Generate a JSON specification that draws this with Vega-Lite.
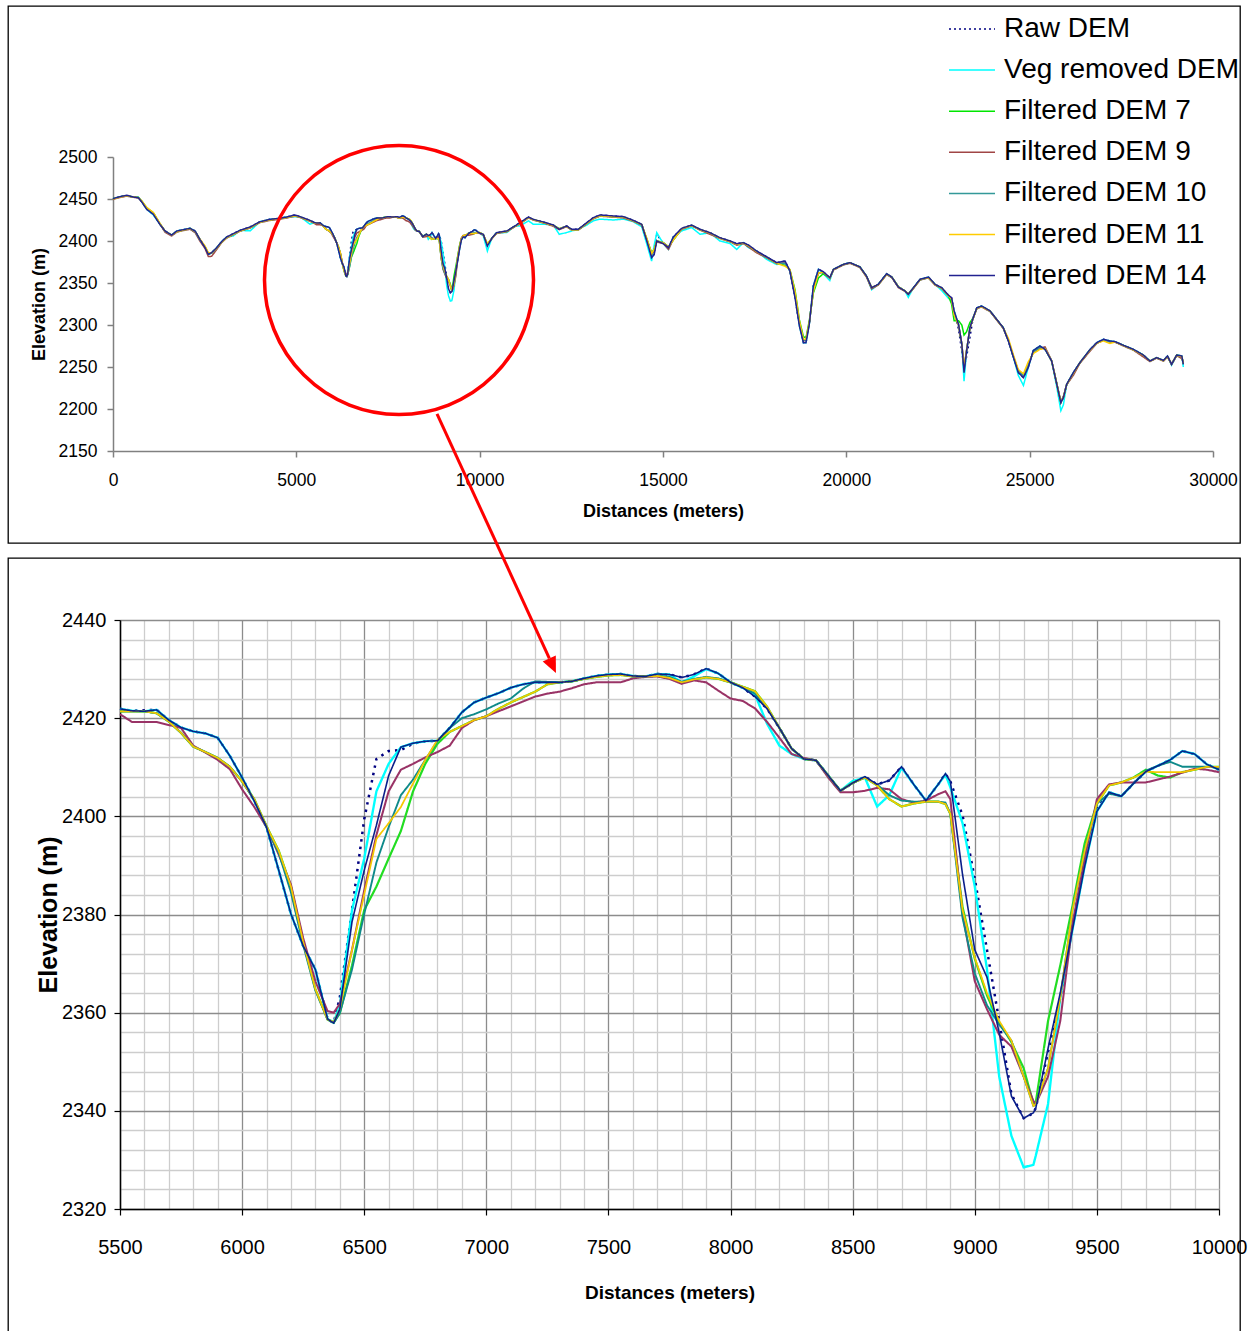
{
"$schema": "https://vega.github.io/schema/vega-lite/v6.json",
"background": "white",
"padding": {"left": 7, "top": 4, "right": 0, "bottom": 0},
"autosize": {"type": "pad"},
"bounds": "flush",
"spacing": 15,
"config": {"view": {"stroke": null}, "font": "Liberation Sans", "axis": {"labelFont": "Liberation Sans", "titleFont": "Liberation Sans", "labelColor": "#000", "titleColor": "#000", "titleFontWeight": "bold"}},
"resolve": {"scale": {"color": "independent", "strokeDash": "independent", "strokeWidth": "independent"}, "legend": {"color": "independent", "strokeDash": "independent"}},
"datasets": {
"names": [{"k":"r","s":"Raw DEM"},{"k":"v","s":"Veg removed DEM"},{"k":"a","s":"Filtered DEM 7"},{"k":"b","s":"Filtered DEM 9"},{"k":"c","s":"Filtered DEM 10"},{"k":"d","s":"Filtered DEM 11"},{"k":"e","s":"Filtered DEM 14"}],
"circ": [{"x": 7800, "y": 2353.6}],
"arrow": [{"x": 6798, "y": 2482, "x2": 7258, "y2": 2432.2}],
"tip": [{"x": 7285, "y": 2429.2}],
"p": [
{"x":0,"r":2450.4,"v":2450.4,"a":2450.2,"b":2449.5,"c":2450.2,"d":2450.0,"e":2450.4},
{"x":190,"r":2452.8,"v":2452.6,"a":2452.5,"b":2451.8,"c":2452.5,"d":2452.3,"e":2452.8},
{"x":370,"r":2454.4,"v":2454.0,"a":2454.0,"b":2453.5,"c":2454.0,"d":2453.8,"e":2454.4},
{"x":550,"r":2452.4,"v":2452.4,"a":2452.4,"b":2452.0,"c":2452.4,"d":2452.4,"e":2452.4},
{"x":690,"r":2451.6,"v":2452.5,"a":2451.8,"b":2451.2,"c":2451.8,"d":2451.8,"e":2451.6},
{"x":780,"r":2446.8,"v":2446.8,"a":2447.8,"b":2447.0,"c":2447.5,"d":2448.0,"e":2446.8},
{"x":920,"r":2437.7,"v":2437.7,"a":2439.5,"b":2438.5,"c":2439.0,"d":2440.0,"e":2437.7},
{"x":1100,"r":2431.7,"v":2431.0,"a":2433.5,"b":2433.0,"c":2433.0,"d":2434.0,"e":2431.7},
{"x":1280,"r":2419.8,"v":2419.8,"a":2420.5,"b":2420.0,"c":2420.5,"d":2421.0,"e":2419.8},
{"x":1420,"r":2411.9,"v":2411.9,"a":2411.5,"b":2410.5,"c":2411.5,"d":2411.8,"e":2411.9},
{"x":1600,"r":2407.1,"v":2407.1,"a":2407.0,"b":2406.0,"c":2407.0,"d":2407.0,"e":2407.1},
{"x":1740,"r":2411.9,"v":2411.9,"a":2411.0,"b":2410.5,"c":2411.0,"d":2411.0,"e":2411.9},
{"x":1920,"r":2413.5,"v":2413.5,"a":2413.0,"b":2412.5,"c":2413.0,"d":2413.0,"e":2413.5},
{"x":2100,"r":2415.1,"v":2415.1,"a":2414.8,"b":2414.0,"c":2414.8,"d":2414.8,"e":2415.1},
{"x":2240,"r":2411.9,"v":2411.9,"a":2411.0,"b":2410.0,"c":2411.0,"d":2411.5,"e":2411.9},
{"x":2370,"r":2402.0,"v":2402.0,"a":2401.5,"b":2400.0,"c":2401.5,"d":2402.5,"e":2402.0},
{"x":2510,"r":2392.1,"v":2392.1,"a":2393.0,"b":2391.0,"c":2393.0,"d":2394.0,"e":2392.1},
{"x":2600,"r":2384.1,"v":2384.1,"a":2385.0,"b":2381.5,"c":2385.0,"d":2386.0,"e":2384.1},
{"x":2690,"r":2386.1,"v":2386.1,"a":2385.5,"b":2381.8,"c":2385.5,"d":2386.0,"e":2386.1},
{"x":2830,"r":2392.1,"v":2392.1,"a":2391.5,"b":2390.0,"c":2391.5,"d":2391.5,"e":2392.1},
{"x":2960,"r":2399.2,"v":2399.2,"a":2398.5,"b":2398.0,"c":2398.5,"d":2398.5,"e":2399.2},
{"x":3100,"r":2404.8,"v":2404.8,"a":2404.0,"b":2403.5,"c":2404.0,"d":2404.0,"e":2404.8},
{"x":3280,"r":2408.7,"v":2406.0,"a":2408.0,"b":2407.5,"c":2408.0,"d":2408.0,"e":2408.7},
{"x":3460,"r":2412.7,"v":2412.7,"a":2412.0,"b":2411.5,"c":2412.0,"d":2412.0,"e":2412.7},
{"x":3740,"r":2416.7,"v":2412.0,"a":2416.0,"b":2415.5,"c":2416.0,"d":2416.0,"e":2416.7},
{"x":4010,"r":2423.0,"v":2423.0,"a":2422.5,"b":2422.0,"c":2422.5,"d":2422.5,"e":2423.0},
{"x":4280,"r":2425.8,"v":2425.8,"a":2425.2,"b":2424.5,"c":2425.2,"d":2425.2,"e":2425.8},
{"x":4550,"r":2427.0,"v":2427.0,"a":2426.5,"b":2426.0,"c":2426.5,"d":2426.5,"e":2427.0},
{"x":4740,"r":2428.6,"v":2428.6,"a":2428.0,"b":2427.5,"c":2428.0,"d":2428.0,"e":2428.6},
{"x":4960,"r":2431.0,"v":2429.0,"a":2430.0,"b":2429.5,"c":2430.0,"d":2430.0,"e":2431.0},
{"x":5100,"r":2429.0,"v":2429.0,"a":2428.5,"b":2428.0,"c":2428.5,"d":2428.5,"e":2429.0},
{"x":5370,"r":2424.6,"v":2420.0,"a":2424.0,"b":2423.5,"c":2424.0,"d":2424.0,"e":2424.6},
{"x":5500,"r":2421.9,"v":2421.9,"a":2421.4,"b":2420.8,"c":2421.4,"d":2421.4,"e":2421.9},
{"x":5550,"r":2421.5,"v":2421.5,"a":2421.4,"b":2419.2,"c":2421.4,"d":2421.4,"e":2421.5},
{"x":5600,"r":2421.6,"v":2421.4,"a":2421.4,"b":2419.2,"c":2421.4,"d":2421.4,"e":2421.4},
{"x":5650,"r":2421.7,"v":2421.7,"a":2421.0,"b":2419.2,"c":2421.0,"d":2421.0,"e":2421.7},
{"x":5700,"r":2419.6,"v":2419.6,"a":2419.3,"b":2418.6,"c":2419.3,"d":2419.3,"e":2419.6},
{"x":5750,"r":2418.1,"v":2418.1,"a":2417.0,"b":2418.0,"c":2417.0,"d":2417.0,"e":2418.1},
{"x":5800,"r":2417.3,"v":2417.3,"a":2414.2,"b":2414.4,"c":2414.2,"d":2414.2,"e":2417.3},
{"x":5850,"r":2416.9,"v":2416.9,"a":2413.1,"b":2413.0,"c":2413.1,"d":2413.1,"e":2416.9},
{"x":5900,"r":2416.0,"v":2416.0,"a":2411.9,"b":2411.5,"c":2411.9,"d":2411.9,"e":2416.0},
{"x":5950,"r":2412.3,"v":2412.3,"a":2410.1,"b":2409.6,"c":2410.1,"d":2410.1,"e":2412.3},
{"x":6000,"r":2407.9,"v":2407.9,"a":2407.1,"b":2405.5,"c":2407.1,"d":2407.1,"e":2407.9},
{"x":6050,"r":2403.1,"v":2403.1,"a":2403.5,"b":2401.9,"c":2403.3,"d":2403.5,"e":2403.1},
{"x":6100,"r":2397.8,"v":2397.8,"a":2398.0,"b":2397.8,"c":2397.8,"d":2398.0,"e":2397.8},
{"x":6150,"r":2389.0,"v":2389.0,"a":2393.0,"b":2392.2,"c":2392.5,"d":2393.0,"e":2389.0},
{"x":6200,"r":2380.1,"v":2380.1,"a":2385.7,"b":2386.1,"c":2384.5,"d":2385.7,"e":2380.1},
{"x":6250,"r":2373.6,"v":2373.6,"a":2374.4,"b":2375.2,"c":2373.8,"d":2374.4,"e":2373.6},
{"x":6300,"r":2368.8,"v":2368.8,"a":2364.8,"b":2366.4,"c":2364.5,"d":2364.8,"e":2368.8},
{"x":6350,"r":2358.7,"v":2358.7,"a":2358.6,"b":2360.3,"c":2358.6,"d":2358.6,"e":2358.7},
{"x":6375,"r":2357.9,"v":2358.0,"a":2358.0,"b":2360.0,"c":2357.9,"d":2358.1,"e":2357.9},
{"x":6400,"r":2363.1,"v":2361.5,"a":2359.9,"b":2361.8,"c":2359.9,"d":2360.7,"e":2360.7},
{"x":6450,"r":2380.9,"v":2380.9,"a":2369.6,"b":2372.8,"c":2368.8,"d":2372.8,"e":2378.5},
{"x":6500,"r":2399.4,"v":2391.4,"a":2380.9,"b":2384.9,"c":2380.1,"d":2384.1,"e":2389.0},
{"x":6550,"r":2411.7,"v":2405.1,"a":2385.7,"b":2396.2,"c":2390.6,"d":2395.4,"e":2398.2},
{"x":6600,"r":2413.3,"v":2410.7,"a":2391.4,"b":2405.1,"c":2397.8,"d":2398.6,"e":2408.3},
{"x":6650,"r":2413.5,"v":2414.1,"a":2397.0,"b":2409.5,"c":2404.3,"d":2401.9,"e":2414.1},
{"x":6700,"r":2414.8,"v":2414.9,"a":2405.1,"b":2410.7,"c":2407.5,"d":2406.7,"e":2414.9},
{"x":6750,"r":2415.3,"v":2415.3,"a":2410.7,"b":2412.0,"c":2411.5,"d":2411.5,"e":2415.3},
{"x":6800,"r":2415.4,"v":2415.4,"a":2414.8,"b":2413.1,"c":2415.4,"d":2415.6,"e":2415.4},
{"x":6850,"r":2418.0,"v":2418.0,"a":2417.2,"b":2414.4,"c":2418.0,"d":2417.2,"e":2418.0},
{"x":6900,"r":2421.2,"v":2421.2,"a":2418.4,"b":2418.0,"c":2420.0,"d":2418.4,"e":2421.2},
{"x":6950,"r":2423.2,"v":2423.2,"a":2419.6,"b":2419.6,"c":2420.8,"d":2419.6,"e":2423.2},
{"x":7000,"r":2424.2,"v":2424.2,"a":2420.4,"b":2420.4,"c":2421.8,"d":2420.4,"e":2424.2},
{"x":7050,"r":2425.1,"v":2425.1,"a":2421.9,"b":2421.4,"c":2423.0,"d":2421.9,"e":2425.1},
{"x":7100,"r":2426.2,"v":2426.2,"a":2423.2,"b":2422.4,"c":2424.0,"d":2423.2,"e":2426.2},
{"x":7150,"r":2426.9,"v":2426.9,"a":2424.3,"b":2423.4,"c":2426.0,"d":2424.3,"e":2426.9},
{"x":7200,"r":2427.3,"v":2427.3,"a":2425.4,"b":2424.4,"c":2427.5,"d":2425.4,"e":2427.3},
{"x":7250,"r":2427.3,"v":2427.3,"a":2426.9,"b":2425.0,"c":2427.4,"d":2426.9,"e":2427.3},
{"x":7300,"r":2427.3,"v":2427.3,"a":2427.3,"b":2425.4,"c":2427.3,"d":2427.3,"e":2427.3},
{"x":7350,"r":2427.5,"v":2427.5,"a":2427.5,"b":2426.1,"c":2427.5,"d":2427.5,"e":2427.5},
{"x":7400,"r":2428.1,"v":2428.1,"a":2428.0,"b":2426.9,"c":2428.0,"d":2428.0,"e":2428.1},
{"x":7450,"r":2428.6,"v":2428.6,"a":2428.4,"b":2427.3,"c":2428.5,"d":2428.4,"e":2428.6},
{"x":7500,"r":2428.9,"v":2428.9,"a":2428.7,"b":2427.3,"c":2428.8,"d":2428.7,"e":2428.9},
{"x":7550,"r":2429.0,"v":2429.0,"a":2428.8,"b":2427.3,"c":2428.9,"d":2428.8,"e":2429.0},
{"x":7600,"r":2428.6,"v":2428.6,"a":2428.5,"b":2428.1,"c":2428.5,"d":2428.5,"e":2428.6},
{"x":7650,"r":2428.5,"v":2428.5,"a":2428.5,"b":2428.4,"c":2428.5,"d":2428.5,"e":2428.5},
{"x":7700,"r":2429.0,"v":2429.0,"a":2428.6,"b":2428.5,"c":2428.7,"d":2428.6,"e":2429.0},
{"x":7750,"r":2428.9,"v":2428.9,"a":2428.2,"b":2428.0,"c":2428.4,"d":2428.2,"e":2428.9},
{"x":7800,"r":2428.3,"v":2427.3,"a":2427.3,"b":2427.0,"c":2427.4,"d":2427.3,"e":2428.3},
{"x":7850,"r":2428.9,"v":2428.5,"a":2427.9,"b":2427.7,"c":2428.0,"d":2427.9,"e":2428.9},
{"x":7900,"r":2430.1,"v":2430.0,"a":2428.3,"b":2427.3,"c":2428.4,"d":2428.3,"e":2430.1},
{"x":7950,"r":2429.1,"v":2429.1,"a":2428.0,"b":2425.6,"c":2428.1,"d":2428.0,"e":2429.1},
{"x":8000,"r":2427.3,"v":2427.3,"a":2427.3,"b":2424.0,"c":2427.3,"d":2427.3,"e":2427.3},
{"x":8050,"r":2426.2,"v":2426.2,"a":2426.4,"b":2423.5,"c":2426.3,"d":2426.4,"e":2426.2},
{"x":8100,"r":2424.4,"v":2424.8,"a":2425.5,"b":2422.0,"c":2425.0,"d":2425.5,"e":2424.4},
{"x":8150,"r":2421.9,"v":2418.8,"a":2422.3,"b":2419.2,"c":2422.0,"d":2422.3,"e":2421.9},
{"x":8200,"r":2418.0,"v":2414.4,"a":2418.0,"b":2416.0,"c":2418.0,"d":2418.0,"e":2418.0},
{"x":8250,"r":2413.8,"v":2412.7,"a":2413.8,"b":2412.7,"c":2413.8,"d":2413.8,"e":2413.8},
{"x":8300,"r":2411.7,"v":2411.7,"a":2411.7,"b":2411.9,"c":2411.7,"d":2411.7,"e":2411.7},
{"x":8350,"r":2411.4,"v":2411.4,"a":2411.4,"b":2411.4,"c":2411.4,"d":2411.4,"e":2411.4},
{"x":8400,"r":2408.3,"v":2408.3,"a":2408.3,"b":2407.9,"c":2408.3,"d":2408.3,"e":2408.3},
{"x":8450,"r":2405.2,"v":2405.2,"a":2405.2,"b":2404.9,"c":2405.2,"d":2405.2,"e":2405.2},
{"x":8500,"r":2406.8,"v":2407.2,"a":2406.8,"b":2404.9,"c":2406.8,"d":2406.8,"e":2406.8},
{"x":8550,"r":2408.1,"v":2407.9,"a":2407.9,"b":2405.2,"c":2407.9,"d":2407.9,"e":2408.1},
{"x":8600,"r":2406.5,"v":2402.0,"a":2406.3,"b":2405.8,"c":2406.5,"d":2406.3,"e":2406.5},
{"x":8650,"r":2407.3,"v":2404.3,"a":2403.5,"b":2405.5,"c":2404.3,"d":2403.5,"e":2407.3},
{"x":8700,"r":2410.1,"v":2409.9,"a":2402.0,"b":2403.5,"c":2403.2,"d":2402.0,"e":2410.1},
{"x":8750,"r":2406.5,"v":2406.5,"a":2402.6,"b":2402.8,"c":2403.0,"d":2402.6,"e":2406.5},
{"x":8800,"r":2403.2,"v":2403.2,"a":2403.0,"b":2403.2,"c":2403.0,"d":2403.0,"e":2403.2},
{"x":8850,"r":2406.5,"v":2406.5,"a":2403.0,"b":2404.5,"c":2403.0,"d":2403.0,"e":2406.5},
{"x":8880,"r":2408.7,"v":2408.5,"a":2402.5,"b":2405.1,"c":2402.8,"d":2402.5,"e":2408.7},
{"x":8900,"r":2407.1,"v":2405.9,"a":2400.5,"b":2403.5,"c":2400.5,"d":2400.5,"e":2407.1},
{"x":8950,"r":2400.2,"v":2398.6,"a":2381.5,"b":2380.1,"c":2379.3,"d":2380.9,"e":2388.1},
{"x":9000,"r":2387.3,"v":2385.7,"a":2371.0,"b":2366.4,"c":2368.0,"d":2371.2,"e":2372.8},
{"x":9050,"r":2372.8,"v":2368.8,"a":2363.5,"b":2360.7,"c":2361.5,"d":2364.0,"e":2367.2},
{"x":9100,"r":2358.3,"v":2347.0,"a":2358.0,"b":2355.5,"c":2357.6,"d":2358.3,"e":2355.9},
{"x":9150,"r":2343.4,"v":2334.9,"a":2354.0,"b":2353.1,"c":2354.3,"d":2354.3,"e":2343.0},
{"x":9200,"r":2338.5,"v":2328.5,"a":2348.7,"b":2347.0,"c":2347.0,"d":2347.0,"e":2338.5},
{"x":9240,"r":2339.5,"v":2329.0,"a":2341.5,"b":2342.0,"c":2341.0,"d":2341.0,"e":2339.6},
{"x":9250,"r":2340.6,"v":2330.9,"a":2341.8,"b":2341.4,"c":2341.3,"d":2341.3,"e":2340.6},
{"x":9300,"r":2352.0,"v":2341.4,"a":2358.3,"b":2347.0,"c":2348.7,"d":2348.7,"e":2352.7},
{"x":9350,"r":2363.0,"v":2363.1,"a":2369.6,"b":2358.3,"c":2363.1,"d":2363.1,"e":2364.0},
{"x":9400,"r":2377.5,"v":2376.9,"a":2381.7,"b":2378.1,"c":2380.9,"d":2380.9,"e":2376.9},
{"x":9450,"r":2391.0,"v":2389.8,"a":2394.5,"b":2391.4,"c":2393.0,"d":2393.0,"e":2389.8},
{"x":9500,"r":2401.5,"v":2401.0,"a":2402.6,"b":2403.5,"c":2402.6,"d":2402.6,"e":2401.0},
{"x":9550,"r":2404.9,"v":2404.9,"a":2406.3,"b":2406.5,"c":2404.6,"d":2406.3,"e":2404.9},
{"x":9600,"r":2404.1,"v":2404.1,"a":2406.9,"b":2406.9,"c":2404.1,"d":2406.9,"e":2404.1},
{"x":9650,"r":2406.7,"v":2406.7,"a":2407.9,"b":2406.9,"c":2406.7,"d":2407.9,"e":2406.7},
{"x":9700,"r":2409.1,"v":2409.1,"a":2409.5,"b":2406.9,"c":2409.3,"d":2409.1,"e":2409.1},
{"x":9750,"r":2410.3,"v":2410.3,"a":2408.3,"b":2407.5,"c":2410.3,"d":2409.0,"e":2410.3},
{"x":9800,"r":2411.5,"v":2411.5,"a":2407.9,"b":2408.1,"c":2411.1,"d":2409.0,"e":2411.5},
{"x":9850,"r":2413.3,"v":2413.3,"a":2409.0,"b":2408.9,"c":2410.1,"d":2409.0,"e":2413.3},
{"x":9900,"r":2412.7,"v":2412.7,"a":2409.5,"b":2409.7,"c":2410.1,"d":2409.5,"e":2412.7},
{"x":9950,"r":2410.6,"v":2410.6,"a":2410.1,"b":2409.5,"c":2410.1,"d":2410.1,"e":2410.6},
{"x":10000,"r":2409.5,"v":2409.5,"a":2410.1,"b":2409.0,"c":2409.9,"d":2410.1,"e":2409.5},
{"x":10100,"r":2407.9,"v":2406.0,"a":2407.5,"b":2407.0,"c":2407.5,"d":2407.5,"e":2407.9},
{"x":10210,"r":2394.0,"v":2388.0,"a":2396.0,"b":2396.0,"c":2396.0,"d":2397.0,"e":2394.0},
{"x":10330,"r":2403.2,"v":2403.2,"a":2403.0,"b":2402.5,"c":2403.0,"d":2403.0,"e":2403.2},
{"x":10460,"r":2409.9,"v":2409.9,"a":2409.5,"b":2409.0,"c":2409.5,"d":2409.5,"e":2409.9},
{"x":10740,"r":2411.9,"v":2410.0,"a":2411.5,"b":2411.0,"c":2411.5,"d":2411.5,"e":2411.9},
{"x":10960,"r":2417.9,"v":2417.9,"a":2417.5,"b":2417.0,"c":2417.5,"d":2417.5,"e":2417.9},
{"x":11100,"r":2421.8,"v":2418.0,"a":2421.0,"b":2420.5,"c":2421.0,"d":2421.0,"e":2421.8},
{"x":11330,"r":2428.6,"v":2424.0,"a":2428.0,"b":2427.5,"c":2428.0,"d":2428.0,"e":2428.6},
{"x":11460,"r":2425.8,"v":2420.0,"a":2425.5,"b":2425.0,"c":2425.5,"d":2425.5,"e":2425.8},
{"x":11740,"r":2422.6,"v":2420.0,"a":2422.0,"b":2421.5,"c":2422.0,"d":2422.0,"e":2422.6},
{"x":12010,"r":2419.0,"v":2419.0,"a":2418.5,"b":2417.5,"c":2418.5,"d":2418.5,"e":2419.0},
{"x":12170,"r":2413.9,"v":2408.0,"a":2414.5,"b":2413.5,"c":2414.5,"d":2414.5,"e":2413.9},
{"x":12370,"r":2417.9,"v":2410.0,"a":2417.5,"b":2417.0,"c":2417.5,"d":2417.5,"e":2417.9},
{"x":12510,"r":2413.9,"v":2412.0,"a":2413.5,"b":2413.0,"c":2413.5,"d":2413.5,"e":2413.9},
{"x":12690,"r":2413.9,"v":2413.9,"a":2413.5,"b":2413.0,"c":2413.5,"d":2413.5,"e":2413.9},
{"x":12920,"r":2421.8,"v":2419.0,"a":2421.0,"b":2420.5,"c":2421.0,"d":2421.0,"e":2421.8},
{"x":13100,"r":2427.8,"v":2424.0,"a":2427.0,"b":2426.5,"c":2427.0,"d":2427.0,"e":2427.8},
{"x":13280,"r":2431.0,"v":2426.0,"a":2430.0,"b":2429.5,"c":2430.0,"d":2430.0,"e":2431.0},
{"x":13650,"r":2429.8,"v":2425.0,"a":2429.0,"b":2428.5,"c":2429.0,"d":2429.0,"e":2429.8},
{"x":13920,"r":2429.0,"v":2426.0,"a":2428.5,"b":2427.5,"c":2428.5,"d":2428.5,"e":2429.0},
{"x":14190,"r":2424.6,"v":2423.0,"a":2424.0,"b":2423.5,"c":2424.0,"d":2424.0,"e":2424.6},
{"x":14420,"r":2419.8,"v":2417.0,"a":2419.5,"b":2419.0,"c":2419.5,"d":2419.5,"e":2419.8},
{"x":14560,"r":2400.0,"v":2396.0,"a":2402.0,"b":2401.0,"c":2402.0,"d":2403.0,"e":2400.0},
{"x":14690,"r":2380.2,"v":2376.0,"a":2386.0,"b":2384.0,"c":2385.0,"d":2385.0,"e":2380.2},
{"x":14760,"r":2384.1,"v":2395.0,"a":2390.0,"b":2388.0,"c":2389.0,"d":2390.0,"e":2384.1},
{"x":14830,"r":2408.0,"v":2410.0,"a":2400.0,"b":2399.0,"c":2400.0,"d":2400.0,"e":2400.0},
{"x":15010,"r":2396.8,"v":2396.8,"a":2398.0,"b":2397.0,"c":2398.0,"d":2398.0,"e":2396.8},
{"x":15150,"r":2392.1,"v":2390.0,"a":2393.0,"b":2390.0,"c":2393.0,"d":2393.0,"e":2392.1},
{"x":15280,"r":2404.8,"v":2404.8,"a":2401.0,"b":2402.0,"c":2402.0,"d":2401.0,"e":2404.8},
{"x":15510,"r":2415.1,"v":2412.0,"a":2414.5,"b":2414.0,"c":2414.5,"d":2414.5,"e":2415.1},
{"x":15780,"r":2419.0,"v":2416.0,"a":2418.5,"b":2418.0,"c":2418.5,"d":2418.5,"e":2419.0},
{"x":16010,"r":2413.9,"v":2408.0,"a":2413.5,"b":2413.0,"c":2413.5,"d":2413.5,"e":2413.9},
{"x":16280,"r":2409.9,"v":2409.9,"a":2409.5,"b":2408.0,"c":2409.5,"d":2409.5,"e":2409.9},
{"x":16550,"r":2404.0,"v":2400.0,"a":2403.5,"b":2403.0,"c":2403.5,"d":2403.5,"e":2404.0},
{"x":16830,"r":2400.0,"v":2397.0,"a":2399.5,"b":2399.0,"c":2399.5,"d":2399.5,"e":2400.0},
{"x":17010,"r":2396.8,"v":2390.0,"a":2396.0,"b":2395.0,"c":2396.0,"d":2396.0,"e":2396.8},
{"x":17190,"r":2398.0,"v":2398.0,"a":2397.5,"b":2397.0,"c":2397.5,"d":2397.5,"e":2398.0},
{"x":17330,"r":2395.2,"v":2392.0,"a":2394.5,"b":2393.0,"c":2394.5,"d":2394.5,"e":2395.2},
{"x":17550,"r":2388.1,"v":2388.1,"a":2387.5,"b":2386.0,"c":2387.5,"d":2387.5,"e":2388.1},
{"x":17830,"r":2381.0,"v":2378.0,"a":2380.5,"b":2380.0,"c":2380.5,"d":2380.5,"e":2381.0},
{"x":18100,"r":2374.2,"v":2372.0,"a":2373.5,"b":2373.0,"c":2373.5,"d":2373.5,"e":2374.2},
{"x":18330,"r":2376.2,"v":2374.0,"a":2371.0,"b":2374.0,"c":2373.0,"d":2370.0,"e":2376.2},
{"x":18460,"r":2364.3,"v":2364.3,"a":2366.0,"b":2365.0,"c":2365.0,"d":2366.0,"e":2364.3},
{"x":18600,"r":2332.5,"v":2335.0,"a":2342.0,"b":2336.0,"c":2338.0,"d":2340.0,"e":2332.5},
{"x":18720,"r":2298.8,"v":2298.8,"a":2306.0,"b":2302.0,"c":2303.0,"d":2305.0,"e":2298.8},
{"x":18830,"r":2279.0,"v":2279.0,"a":2286.0,"b":2281.0,"c":2282.0,"d":2283.0,"e":2279.0},
{"x":18900,"r":2279.0,"v":2279.0,"a":2285.0,"b":2282.0,"c":2282.0,"d":2283.0,"e":2279.0},
{"x":18990,"r":2300.8,"v":2300.8,"a":2305.0,"b":2302.0,"c":2302.0,"d":2303.0,"e":2300.8},
{"x":19100,"r":2346.4,"v":2346.4,"a":2338.0,"b":2342.0,"c":2341.0,"d":2340.0,"e":2346.4},
{"x":19240,"r":2366.3,"v":2366.3,"a":2356.0,"b":2362.0,"c":2362.0,"d":2362.0,"e":2366.3},
{"x":19370,"r":2363.5,"v":2361.0,"a":2361.0,"b":2362.5,"c":2363.0,"d":2363.0,"e":2363.5},
{"x":19550,"r":2356.3,"v":2353.0,"a":2356.0,"b":2355.5,"c":2356.0,"d":2356.0,"e":2356.3},
{"x":19650,"r":2366.3,"v":2366.3,"a":2366.0,"b":2365.5,"c":2366.0,"d":2366.0,"e":2366.3},
{"x":19920,"r":2372.2,"v":2372.2,"a":2372.0,"b":2371.5,"c":2372.0,"d":2372.0,"e":2372.2},
{"x":20100,"r":2374.2,"v":2374.2,"a":2374.0,"b":2373.5,"c":2374.0,"d":2374.0,"e":2374.2},
{"x":20370,"r":2369.2,"v":2369.2,"a":2369.0,"b":2368.5,"c":2369.0,"d":2369.0,"e":2369.2},
{"x":20550,"r":2358.3,"v":2358.3,"a":2358.0,"b":2357.0,"c":2358.0,"d":2358.0,"e":2358.3},
{"x":20690,"r":2344.4,"v":2342.0,"a":2344.5,"b":2343.0,"c":2344.5,"d":2344.5,"e":2344.4},
{"x":20870,"r":2348.4,"v":2348.4,"a":2348.0,"b":2347.5,"c":2348.0,"d":2348.0,"e":2348.4},
{"x":21100,"r":2361.1,"v":2361.1,"a":2360.5,"b":2360.0,"c":2360.5,"d":2360.5,"e":2361.1},
{"x":21240,"r":2357.1,"v":2357.1,"a":2357.0,"b":2356.5,"c":2357.0,"d":2357.0,"e":2357.1},
{"x":21420,"r":2345.2,"v":2345.2,"a":2345.5,"b":2344.5,"c":2345.5,"d":2345.5,"e":2345.2},
{"x":21600,"r":2340.5,"v":2340.5,"a":2340.5,"b":2340.0,"c":2340.5,"d":2340.5,"e":2340.5},
{"x":21690,"r":2336.5,"v":2333.0,"a":2337.0,"b":2336.5,"c":2337.0,"d":2337.0,"e":2336.5},
{"x":21830,"r":2344.4,"v":2344.4,"a":2344.0,"b":2343.5,"c":2344.0,"d":2344.0,"e":2344.4},
{"x":22010,"r":2354.4,"v":2354.4,"a":2354.0,"b":2353.5,"c":2354.0,"d":2354.0,"e":2354.4},
{"x":22240,"r":2357.1,"v":2357.1,"a":2356.5,"b":2356.0,"c":2356.5,"d":2356.5,"e":2357.1},
{"x":22420,"r":2348.4,"v":2348.4,"a":2348.0,"b":2347.5,"c":2348.0,"d":2348.0,"e":2348.4},
{"x":22600,"r":2344.4,"v":2341.0,"a":2344.0,"b":2343.5,"c":2344.0,"d":2344.0,"e":2344.4},
{"x":22780,"r":2335.7,"v":2332.0,"a":2335.0,"b":2335.0,"c":2335.0,"d":2335.0,"e":2335.7},
{"x":22870,"r":2332.5,"v":2329.0,"a":2325.0,"b":2331.0,"c":2331.0,"d":2331.0,"e":2332.5},
{"x":22940,"r":2316.7,"v":2316.7,"a":2305.0,"b":2314.0,"c":2313.0,"d":2312.0,"e":2316.7},
{"x":23060,"r":2295.0,"v":2300.8,"a":2305.0,"b":2300.0,"c":2300.0,"d":2300.0,"e":2300.8},
{"x":23150,"r":2268.0,"v":2277.0,"a":2300.0,"b":2278.0,"c":2277.0,"d":2277.0,"e":2277.0},
{"x":23210,"r":2250.0,"v":2233.0,"a":2288.0,"b":2248.0,"c":2247.0,"d":2250.0,"e":2243.3},
{"x":23280,"r":2262.0,"v":2269.0,"a":2292.0,"b":2270.0,"c":2270.0,"d":2270.0,"e":2269.0},
{"x":23370,"r":2285.0,"v":2296.8,"a":2303.0,"b":2296.0,"c":2296.0,"d":2296.0,"e":2296.8},
{"x":23460,"r":2308.7,"v":2308.7,"a":2308.5,"b":2308.0,"c":2308.5,"d":2308.5,"e":2308.7},
{"x":23560,"r":2320.6,"v":2320.6,"a":2320.0,"b":2319.5,"c":2320.0,"d":2320.0,"e":2320.6},
{"x":23690,"r":2322.6,"v":2322.6,"a":2322.0,"b":2321.5,"c":2322.0,"d":2322.0,"e":2322.6},
{"x":23920,"r":2316.7,"v":2316.7,"a":2316.5,"b":2316.0,"c":2316.5,"d":2316.5,"e":2316.7},
{"x":24100,"r":2306.7,"v":2306.7,"a":2306.5,"b":2306.0,"c":2306.5,"d":2306.5,"e":2306.7},
{"x":24280,"r":2296.8,"v":2296.8,"a":2296.5,"b":2296.0,"c":2296.5,"d":2296.5,"e":2296.8},
{"x":24420,"r":2280.9,"v":2280.9,"a":2282.0,"b":2281.0,"c":2282.0,"d":2284.0,"e":2280.9},
{"x":24560,"r":2261.1,"v":2261.1,"a":2262.0,"b":2262.0,"c":2262.0,"d":2264.0,"e":2261.1},
{"x":24690,"r":2243.3,"v":2240.0,"a":2245.0,"b":2245.0,"c":2245.0,"d":2247.0,"e":2243.3},
{"x":24830,"r":2237.3,"v":2228.0,"a":2240.0,"b":2240.0,"c":2240.0,"d":2242.0,"e":2237.3},
{"x":24960,"r":2249.2,"v":2249.2,"a":2252.0,"b":2252.0,"c":2252.0,"d":2256.0,"e":2249.2},
{"x":25100,"r":2269.8,"v":2269.8,"a":2268.0,"b":2268.0,"c":2268.0,"d":2266.0,"e":2269.8},
{"x":25280,"r":2275.0,"v":2275.0,"a":2273.0,"b":2272.0,"c":2273.0,"d":2271.0,"e":2275.0},
{"x":25420,"r":2271.0,"v":2271.0,"a":2272.0,"b":2274.0,"c":2272.0,"d":2272.0,"e":2271.0},
{"x":25600,"r":2257.1,"v":2257.1,"a":2257.0,"b":2257.5,"c":2257.0,"d":2257.0,"e":2257.1},
{"x":25740,"r":2229.4,"v":2226.0,"a":2230.0,"b":2230.0,"c":2230.0,"d":2230.0,"e":2229.4},
{"x":25850,"r":2207.5,"v":2198.0,"a":2208.0,"b":2209.0,"c":2208.0,"d":2208.0,"e":2207.5},
{"x":25920,"r":2213.5,"v":2205.0,"a":2214.0,"b":2215.0,"c":2214.0,"d":2214.0,"e":2213.5},
{"x":26010,"r":2229.4,"v":2229.4,"a":2229.0,"b":2229.0,"c":2229.0,"d":2229.0,"e":2229.4},
{"x":26190,"r":2243.3,"v":2243.3,"a":2242.5,"b":2240.0,"c":2242.5,"d":2242.5,"e":2243.3},
{"x":26370,"r":2255.2,"v":2255.2,"a":2255.0,"b":2254.5,"c":2255.0,"d":2255.0,"e":2255.2},
{"x":26650,"r":2271.0,"v":2271.0,"a":2270.5,"b":2269.0,"c":2270.5,"d":2270.5,"e":2271.0},
{"x":26830,"r":2279.0,"v":2279.0,"a":2278.5,"b":2278.0,"c":2278.5,"d":2278.5,"e":2279.0},
{"x":27010,"r":2282.9,"v":2282.9,"a":2282.0,"b":2282.0,"c":2282.0,"d":2281.0,"e":2282.9},
{"x":27190,"r":2281.0,"v":2281.0,"a":2280.0,"b":2280.0,"c":2280.0,"d":2278.0,"e":2281.0},
{"x":27330,"r":2280.2,"v":2280.2,"a":2279.8,"b":2279.5,"c":2279.8,"d":2279.8,"e":2280.2},
{"x":27560,"r":2275.8,"v":2275.8,"a":2275.5,"b":2275.0,"c":2275.5,"d":2275.5,"e":2275.8},
{"x":27830,"r":2271.0,"v":2271.0,"a":2270.5,"b":2270.0,"c":2270.5,"d":2270.5,"e":2271.0},
{"x":28100,"r":2264.3,"v":2264.3,"a":2264.0,"b":2262.0,"c":2264.0,"d":2264.0,"e":2264.3},
{"x":28280,"r":2257.1,"v":2257.1,"a":2257.0,"b":2256.5,"c":2257.0,"d":2257.0,"e":2257.1},
{"x":28460,"r":2261.1,"v":2261.1,"a":2261.0,"b":2260.5,"c":2261.0,"d":2261.0,"e":2261.1},
{"x":28650,"r":2257.9,"v":2257.9,"a":2257.5,"b":2257.0,"c":2257.5,"d":2257.5,"e":2257.9},
{"x":28760,"r":2263.1,"v":2263.1,"a":2262.5,"b":2262.0,"c":2262.5,"d":2262.5,"e":2263.1},
{"x":28870,"r":2253.2,"v":2252.0,"a":2253.5,"b":2253.0,"c":2253.5,"d":2253.5,"e":2253.2},
{"x":29010,"r":2264.3,"v":2264.3,"a":2264.0,"b":2263.5,"c":2264.0,"d":2264.0,"e":2264.3},
{"x":29150,"r":2263.1,"v":2263.1,"a":2262.5,"b":2260.0,"c":2262.5,"d":2262.5,"e":2263.1},
{"x":29190,"r":2253.2,"v":2250.0,"a":2254.0,"b":2256.0,"c":2254.0,"d":2254.0,"e":2253.2}
]
},
"vconcat": [
{
"width": 1232, "height": 537,
"view": {"stroke": "#000000", "strokeWidth": 1.3},
"encoding": {
 "x": {"field": "x", "type": "quantitative",
  "scale": {"domain": [0, 30000], "range": [105, 1205], "nice": false, "zero": false},
  "axis": {"values": [0,5000,10000,15000,20000,25000,30000], "format": "d", "offset": -92, "grid": false, "domainColor": "#808080", "domainWidth": 1.5, "tickColor": "#808080", "tickWidth": 1.5, "tickSize": 6, "labelFontSize": 17.5, "labelPadding": 14, "labelFlush": false, "labelOverlap": false, "labelBound": false, "title": "Distances (meters)", "titleFontSize": 18, "titlePadding": 14}},
 "y": {"field": "y", "type": "quantitative",
  "scale": {"domain": [2150, 2500], "range": [445, 151], "nice": false, "zero": false},
  "axis": {"values": [2150,2200,2250,2300,2350,2400,2450,2500], "format": "d", "offset": -105, "grid": false, "domainColor": "#808080", "domainWidth": 1.5, "tickColor": "#808080", "tickWidth": 1.5, "tickSize": 6, "labelFontSize": 17.5, "labelPadding": 10, "labelFlush": false, "labelOverlap": false, "labelBound": false, "title": "Elevation (m)", "titleFontSize": 18, "titlePadding": 10}}
},
"layer": [
 {"data": {"name": "p"},
  "transform": [{"fold": ["r","v","a","b","c","d","e"], "as": ["k","y"]}, {"lookup": "k", "from": {"data": {"name": "names"}, "key": "k", "fields": ["s"]}}],
  "mark": {"type": "line", "strokeWidth": 1.5},
  "encoding": {
   "color": {"field": "s", "type": "nominal",
    "scale": {"domain": ["Raw DEM","Veg removed DEM","Filtered DEM 7","Filtered DEM 9","Filtered DEM 10","Filtered DEM 11","Filtered DEM 14"], "range": ["#000080","#00FFFF","#00E600","#A04545","#339999","#FFCC00","#222290"]},
    "legend": {"orient": "none", "legendX": 940, "legendY": -1, "title": null, "symbolType": "stroke", "symbolSize": 2116, "symbolStrokeWidth": 1.5, "labelFont": "Liberation Sans", "labelFontSize": 28, "labelColor": "#000", "labelOffset": 8, "rowPadding": 3.1, "padding": 0, "labelLimit": 400}},
   "strokeDash": {"field": "s", "type": "nominal",
    "scale": {"domain": ["Raw DEM","Veg removed DEM","Filtered DEM 7","Filtered DEM 9","Filtered DEM 10","Filtered DEM 11","Filtered DEM 14"], "range": [[2,3],[1,0],[1,0],[1,0],[1,0],[1,0],[1,0]]},
    "legend": {"orient": "none", "legendX": 940, "legendY": -1, "title": null, "symbolType": "stroke", "symbolSize": 2116, "symbolStrokeWidth": 1.5, "labelFont": "Liberation Sans", "labelFontSize": 28, "labelColor": "#000", "labelOffset": 8, "rowPadding": 3.1, "padding": 0, "labelLimit": 400}}
  }},
 {"data": {"name": "circ"},
  "mark": {"type": "point", "shape": "circle", "filled": false, "stroke": "#FF0000", "strokeWidth": 3.5, "size": 72361, "opacity": 1}}
]
},
{
"width": 1232, "height": 783,
"view": {"stroke": "#000000", "strokeWidth": 1.3},
"resolve": {"axis": {"x": "independent", "y": "independent"}},
"layer": [
 {"data": {"name": "p"},
  "transform": [{"filter": {"field": "x", "range": [5500, 10000]}}, {"fold": ["r","v","a","b","c","d","e"], "as": ["k","y"]}, {"lookup": "k", "from": {"data": {"name": "names"}, "key": "k", "fields": ["s"]}}],
  "mark": {"type": "line"},
  "encoding": {
   "x": {"field": "x", "type": "quantitative",
    "scale": {"domain": [5500, 10000], "range": [112, 1211], "nice": false, "zero": false},
    "axis": {"values": [5500,5600,5700,5800,5900,6000,6100,6200,6300,6400,6500,6600,6700,6800,6900,7000,7100,7200,7300,7400,7500,7600,7700,7800,7900,8000,8100,8200,8300,8400,8500,8600,8700,8800,8900,9000,9100,9200,9300,9400,9500,9600,9700,9800,9900,10000],
     "orient": "bottom", "format": "d", "offset": -132, "grid": false,
     "tickOpacity": {"condition": {"test": "datum.value % 500 === 0", "value": 1}, "value": 0},
     "labelExpr": "datum.value % 500 === 0 ? datum.label : ''",
     "domainColor": "#000", "domainWidth": 1.5, "tickColor": "#000", "tickWidth": 1.2, "tickSize": 6,
     "labelFontSize": 20, "labelPadding": 22, "labelFlush": false, "labelOverlap": false, "labelBound": false,
     "title": "Distances (meters)", "titleFontSize": 19, "titlePadding": 26}},
   "y": {"field": "y", "type": "quantitative",
    "scale": {"domain": [2320, 2440], "range": [651, 62], "nice": false, "zero": false},
    "axis": {"values": [2320,2324,2328,2332,2336,2340,2344,2348,2352,2356,2360,2364,2368,2372,2376,2380,2384,2388,2392,2396,2400,2404,2408,2412,2416,2420,2424,2428,2432,2436,2440],
     "orient": "left", "format": "d", "offset": -112, "grid": true,
     "gridColor": {"condition": {"test": "datum.value % 20 === 0", "value": "#8C8C8C"}, "value": "#CDCDCD"},
     "gridWidth": 1.3,
     "tickOpacity": {"condition": {"test": "datum.value % 20 === 0", "value": 1}, "value": 0},
     "labelExpr": "datum.value % 20 === 0 ? datum.label : ''",
     "domainColor": "#000", "domainWidth": 1.5, "tickColor": "#000", "tickWidth": 1.2, "tickSize": 6,
     "labelFontSize": 20, "labelPadding": 8, "labelFlush": false, "labelOverlap": false, "labelBound": false,
     "title": "Elevation (m)", "titleFontSize": 25, "titlePadding": 0}},
   "color": {"field": "s", "type": "nominal", "legend": null,
    "scale": {"domain": ["Raw DEM","Veg removed DEM","Filtered DEM 7","Filtered DEM 9","Filtered DEM 10","Filtered DEM 11","Filtered DEM 14"], "range": ["#000080","#00FFFF","#22DD22","#993366","#0F8A8A","#F5C800","#0A1F8A"]}},
   "strokeDash": {"field": "s", "type": "nominal", "legend": null,
    "scale": {"domain": ["Raw DEM","Veg removed DEM","Filtered DEM 7","Filtered DEM 9","Filtered DEM 10","Filtered DEM 11","Filtered DEM 14"], "range": [[2.5,5],[1,0],[1,0],[1,0],[1,0],[1,0],[1,0]]}},
   "strokeWidth": {"field": "s", "type": "nominal", "legend": null,
    "scale": {"domain": ["Raw DEM","Veg removed DEM","Filtered DEM 7","Filtered DEM 9","Filtered DEM 10","Filtered DEM 11","Filtered DEM 14"], "range": [2.5,1.6,1.6,1.8,1.8,2,2.2]}}
  }},
 {"data": {"name": "arrow"},
  "mark": {"type": "rule", "color": "#FF0000", "strokeWidth": 3},
  "encoding": {
   "x": {"field": "x", "type": "quantitative",
    "scale": {"domain": [5500, 10000], "range": [112, 1211], "nice": false, "zero": false},
    "axis": {"values": [5500,5600,5700,5800,5900,6000,6100,6200,6300,6400,6500,6600,6700,6800,6900,7000,7100,7200,7300,7400,7500,7600,7700,7800,7900,8000,8100,8200,8300,8400,8500,8600,8700,8800,8900,9000,9100,9200,9300,9400,9500,9600,9700,9800,9900,10000],
     "orient": "top", "offset": 0, "grid": true, "labels": false, "ticks": false, "domain": false, "title": null,
     "gridColor": {"condition": {"test": "datum.value % 500 === 0", "value": "#8C8C8C"}, "value": "#CDCDCD"},
     "gridWidth": 1.3}},
   "y": {"field": "y", "type": "quantitative",
    "scale": {"domain": [2320, 2440], "range": [651, 62], "nice": false, "zero": false}, "axis": null},
   "x2": {"field": "x2"}, "y2": {"field": "y2"}}},
 {"data": {"name": "tip"},
  "mark": {"type": "point", "shape": "M0,0L-0.9,-2L0.9,-2Z", "filled": true, "color": "#FF0000", "strokeWidth": 0, "size": 256, "angle": 335.3, "opacity": 1},
  "encoding": {
   "x": {"field": "x", "type": "quantitative",
    "scale": {"domain": [5500, 10000], "range": [112, 1211], "nice": false, "zero": false}, "axis": null},
   "y": {"field": "y", "type": "quantitative",
    "scale": {"domain": [2320, 2440], "range": [651, 62], "nice": false, "zero": false}, "axis": null}}}
]
}
]
}
